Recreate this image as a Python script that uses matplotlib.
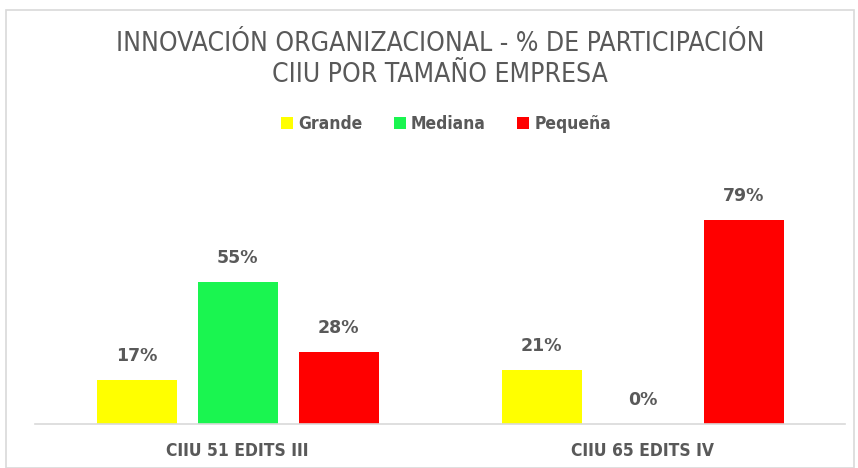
import matplotlib.pyplot as plt
from matplotlib.patches import Rectangle, Patch
import numpy as np

# Datos
categorias = ['CIIU 51 EDITS III', 'CIIU 65 EDITS IV']
series = ['Grande', 'Mediana', 'Pequeña']
grande = [17, 21]
mediana = [55, 0]
pequena = [28, 79]

colores = ['#ffff00', '#1af550', '#ff0000']
gris = '#595959'

plt.rcParams['font.family'] = ['DejaVu Sans']
plt.rcParams['font.stretch'] = 'condensed'

fig = plt.figure(figsize=(8.58, 4.68), dpi=100)
W, H = 858, 468

# marco del grafico
fig.patches.append(Rectangle((6 / W, 0), 848 / W, 1 - 10 / H, transform=fig.transFigure,
                             fill=False, edgecolor='#d9d9d9', linewidth=1.2))

ax = fig.add_axes([35 / W, 1 - 424 / H, 810 / W, 232 / H])
x = np.arange(len(categorias))
ancho = 80 / 405.
paso = 101 / 405.
valores = [grande, mediana, pequena]
for i, (vals, c, nombre) in enumerate(zip(valores, colores, series)):
    pos = x + (i - 1) * paso
    ax.bar(pos, vals, width=ancho, color=c, label=nombre, zorder=2)
    for p, v in zip(pos, vals):
        ax.annotate('%d%%' % v, (p, v), xytext=(0, 11), textcoords='offset points',
                    ha='center', va='bottom', fontsize=12.5, fontweight='bold', color=gris,
                    fontstretch='normal')

ax.set_xlim(-0.5, 1.5)
ax.set_ylim(0, 90)
ax.set_yticks([])
ax.set_xticks(x)
ax.set_xticklabels(categorias, fontsize=12.5, color=gris, fontweight='bold')
ax.tick_params(axis='x', length=0, pad=13)
for s in ['top', 'right', 'left']:
    ax.spines[s].set_visible(False)
ax.spines['bottom'].set_color('#d9d9d9')
ax.spines['bottom'].set_linewidth(1.2)

fig.text(440 / W, 1 - 44 / H, 'INNOVACIÓN ORGANIZACIONAL - % DE PARTICIPACIÓN',
         ha='center', va='center', fontsize=19, color=gris)
fig.text(440 / W, 1 - 75 / H, 'CIIU POR TAMAÑO EMPRESA',
         ha='center', va='center', fontsize=19, color=gris)

handles = [Patch(facecolor=c, label=n) for c, n in zip(colores, series)]
leg = fig.legend(handles=handles, loc='center', bbox_to_anchor=(446 / W, 1 - 124 / H), ncol=3,
                 frameon=False, fontsize=12.5, handlelength=0.7, handleheight=0.7,
                 handletextpad=0.3, columnspacing=1.8,
                 prop={'size': 12.5, 'weight': 'bold', 'stretch': 'condensed'})
for t in leg.get_texts():
    t.set_color(gris)

fig.savefig('out.png', dpi=100)
